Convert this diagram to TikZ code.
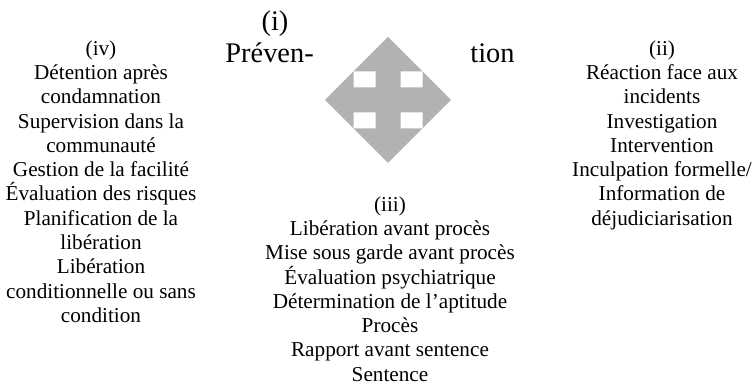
\documentclass[tikz,border=0pt]{standalone}
\usepackage{fontspec}
\setmainfont{Liberation Serif}
\definecolor{grisfleche}{RGB}{178,178,178}
\begin{document}
\begin{tikzpicture}[x=0.5pt, y=-0.5pt,
    liste/.style={align=center, inner sep=0pt, anchor=north, font=\fontsize{10.6}{12.15}\selectfont},
    grand/.style={inner sep=0pt, font=\fontsize{14.2}{17}\selectfont}]
    \useasboundingbox (0,0) rectangle (756,384);

    % fleche a quatre branches (base de la pointe a \b du centre)
    \begin{scope}[shift={(388,100)}]
        \foreach \r/\b in {0/28.5,90/34.5,180/28.5,270/34.5}
            \fill[grisfleche, rotate=\r] (-12.5,0) -- (-12.5,-\b) -- ({\b-63},-\b) -- (0,-63)
                -- ({63-\b},-\b) -- (12.5,-\b) -- (12.5,0) -- cycle;
    \end{scope}

    \node[grand, anchor=base] (i) at (275,31) {(i)};
    \node[grand, anchor=base west] (prev) at (225,63) {Préven-};
    \node[grand, anchor=base west] (tion) at (470,63) {tion};

    \node[liste] (iv) at (101,40) {(iv)\\Détention après\\condamnation\\Supervision dans la\\communauté\\Gestion de la facilité\\Évaluation des risques\\Planification de la\\libération\\Libération\\conditionnelle ou sans\\condition};
    \node[liste] (ii) at (662,40) {(ii)\\Réaction face aux\\incidents\\Investigation\\Intervention\\Inculpation formelle/\\Information de\\déjudiciarisation};
    \node[liste] (iii) at (390,196) {(iii)\\Libération avant procès\\Mise sous garde avant procès\\Évaluation psychiatrique\\Détermination de l’aptitude\\Procès\\Rapport avant sentence\\Sentence};
\end{tikzpicture}
\end{document}
